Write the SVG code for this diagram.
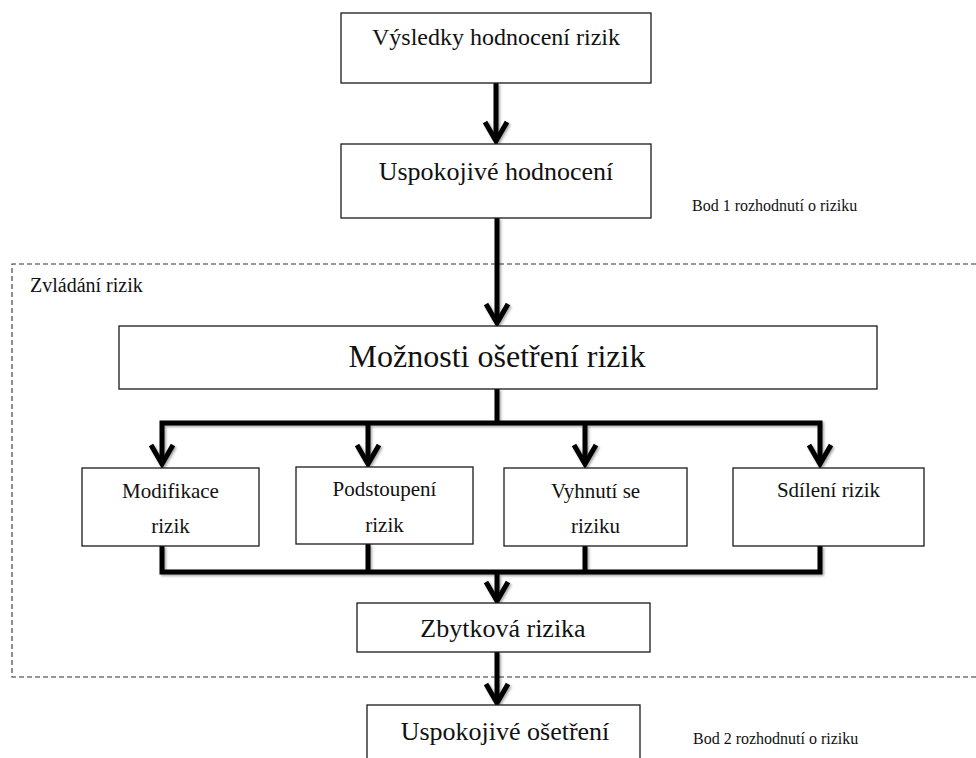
<svg xmlns="http://www.w3.org/2000/svg" width="976" height="758" viewBox="0 0 976 758">
  <defs>
    <filter id="soft" x="-10%" y="-10%" width="130%" height="130%">
      <feDropShadow dx="1.5" dy="1.5" stdDeviation="1.2" flood-color="#000" flood-opacity="0.35"/>
    </filter>
  </defs>
  <style>
    .box { fill: #fff; stroke: #1a1a1a; stroke-width: 1.3; }
    .t { font-family: "Liberation Serif", "Times New Roman", serif; fill: #111; text-anchor: middle; }
    .note { font-family: "Liberation Serif", "Times New Roman", serif; fill: #111; font-size: 16px; }
    .wire { fill: none; stroke: #000; stroke-width: 5; stroke-linejoin: miter; }
    .head { fill: none; stroke: #000; stroke-width: 5; stroke-linejoin: miter; stroke-miterlimit: 10; }
    .frame { fill: none; stroke: #333; stroke-width: 1.1; stroke-dasharray: 5 3; }
  </style>

  <rect width="976" height="758" fill="#fff"/>

  <!-- risk treatment region (dashed frame open on the right) -->
  <g id="region-treatment">
    <path class="frame" d="M976,264 H12 V677 H976"/>
    <text x="30" y="292" class="note" style="font-size:20px">Zvládání rizik</text>
  </g>

  <g id="decision-notes">
    <text x="692" y="211" class="note">Bod 1 rozhodnutí o riziku</text>
    <text x="693" y="744" class="note">Bod 2 rozhodnutí o riziku</text>
  </g>

  <!-- connectors -->
  <g id="connectors" filter="url(#soft)">
    <path class="wire" d="M496,83 V141"/>
    <path class="head" d="M485,122 L496,141 L507,122"/>

    <path class="wire" d="M497,218 V323"/>
    <path class="head" d="M486,304 L497,323 L508,304"/>

    <path class="wire" d="M497,389 V423"/>
    <path class="wire" d="M162,464 V423 H820 V464"/>
    <path class="wire" d="M368,423 V464"/>
    <path class="wire" d="M585,423 V464"/>
    <path class="head" d="M151,445 L162,464 L173,445"/>
    <path class="head" d="M357,445 L368,464 L379,445"/>
    <path class="head" d="M574,445 L585,464 L596,445"/>
    <path class="head" d="M809,445 L820,464 L831,445"/>

    <path class="wire" d="M162,546 V572 H820 V546"/>
    <path class="wire" d="M368,544 V572"/>
    <path class="wire" d="M585,546 V572"/>
    <path class="wire" d="M497,572 V601"/>
    <path class="head" d="M486,582 L497,601 L508,582"/>

    <path class="wire" d="M497,652 V703"/>
    <path class="head" d="M486,684 L497,703 L508,684"/>
  </g>

  <!-- nodes -->
  <g id="node-results">
    <rect class="box" x="341" y="13" width="310" height="70"/>
    <text class="t" x="496" y="45" font-size="24">Výsledky hodnocení rizik</text>
  </g>

  <g id="node-assessment-ok">
    <rect class="box" x="341" y="144" width="310" height="74"/>
    <text class="t" x="496" y="180" font-size="26">Uspokojivé hodnocení</text>
  </g>

  <g id="node-options">
    <rect class="box" x="119" y="326" width="758" height="63"/>
    <text class="t" x="497" y="367" font-size="32">Možnosti ošetření rizik</text>
  </g>

  <g id="node-modification">
    <rect class="box" x="82" y="468" width="177" height="78"/>
    <text class="t" x="170.5" y="498" font-size="21">Modifikace</text>
    <text class="t" x="170.5" y="533" font-size="21">rizik</text>
  </g>

  <g id="node-retention">
    <rect class="box" x="296" y="467" width="177" height="77"/>
    <text class="t" x="384.5" y="496" font-size="21">Podstoupení</text>
    <text class="t" x="384.5" y="532" font-size="21">rizik</text>
  </g>

  <g id="node-avoidance">
    <rect class="box" x="504" y="468" width="183" height="78"/>
    <text class="t" x="595.5" y="498" font-size="21">Vyhnutí se</text>
    <text class="t" x="595.5" y="533" font-size="21">riziku</text>
  </g>

  <g id="node-sharing">
    <rect class="box" x="733" y="468" width="191" height="78"/>
    <text class="t" x="828.5" y="497" font-size="21">Sdílení rizik</text>
  </g>

  <g id="node-residual">
    <rect class="box" x="357" y="603" width="293" height="49"/>
    <text class="t" x="503" y="637" font-size="26">Zbytková rizika</text>
  </g>

  <g id="node-treatment-ok">
    <rect class="box" x="367" y="705" width="273" height="70"/>
    <text class="t" x="505" y="740" font-size="26">Uspokojivé ošetření</text>
  </g>
</svg>
